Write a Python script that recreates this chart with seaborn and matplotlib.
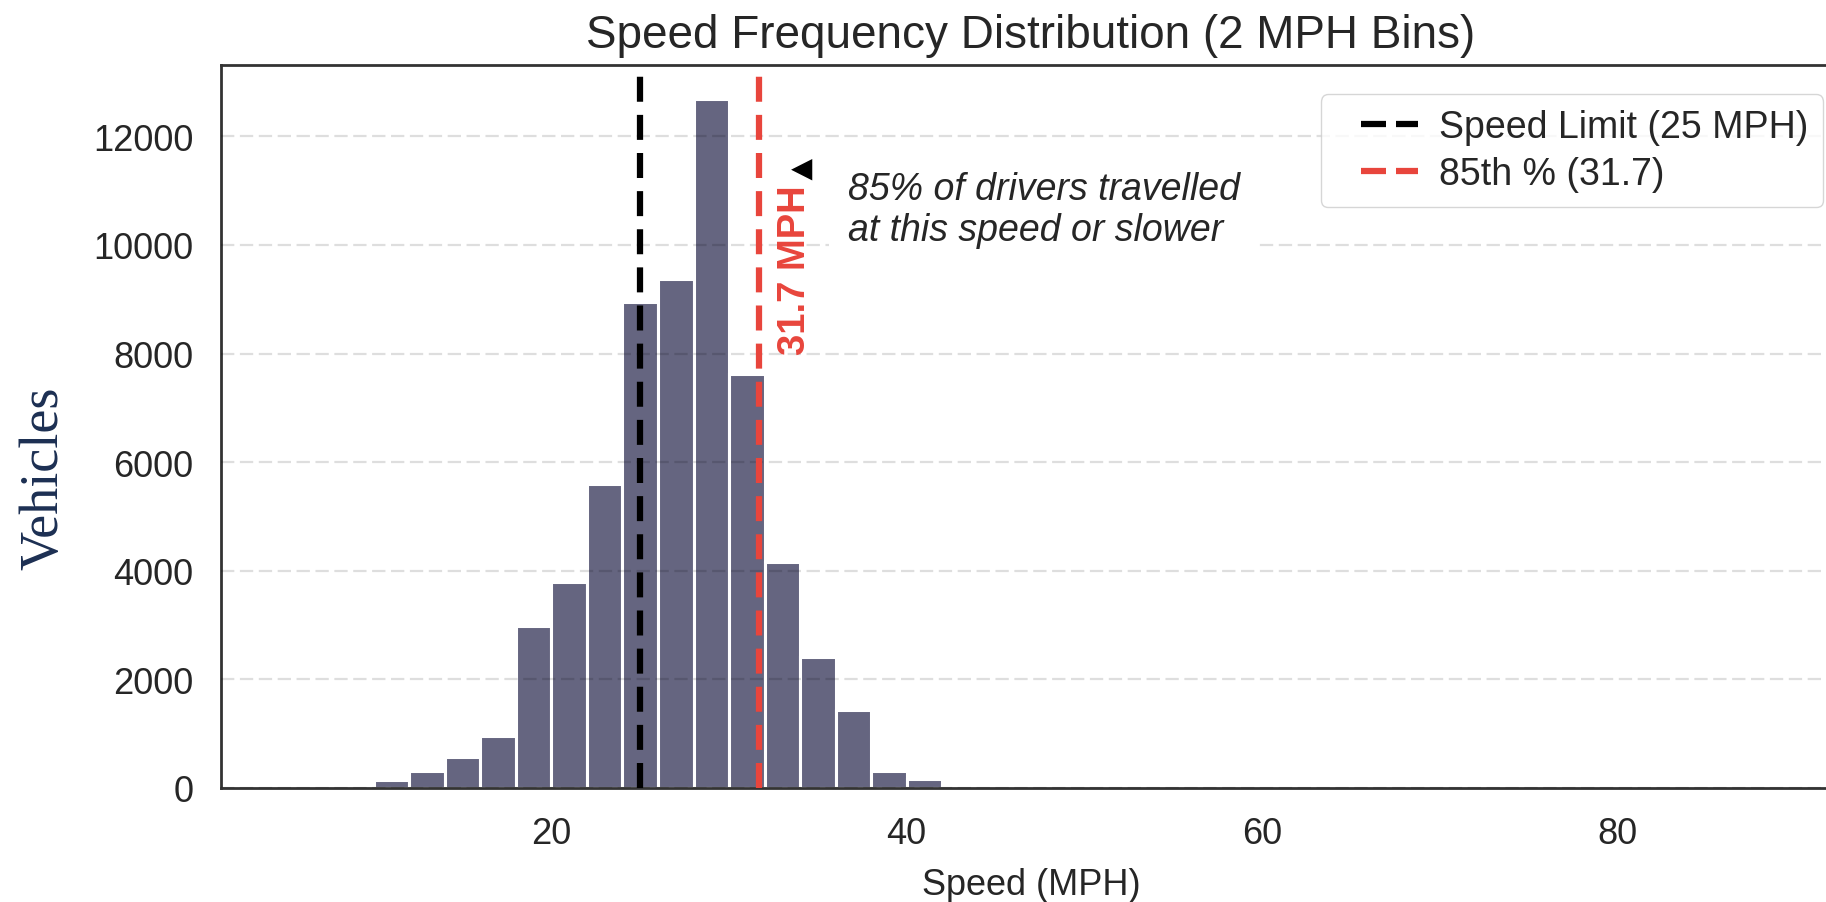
import matplotlib
matplotlib.use("Agg")
import matplotlib.pyplot as plt
import seaborn as sns
import numpy as np
import pandas as pd

# ---- data ----
bin_width = 2
bin_lefts = [6, 8, 10, 12, 14, 16, 18, 20, 22, 24, 26, 28, 30, 32, 34, 36, 38, 40,
             42, 44, 46, 48, 50, 52, 54, 56, 58, 60, 62, 64, 66, 68, 70, 72, 74,
             76, 78, 80, 82, 84, 86]
vehicle_counts = [20, 45, 150, 320, 570, 960, 2980, 3800, 5600, 8950, 9380, 12680,
                  7620, 4170, 2420, 1430, 320, 160,
                  60, 30, 20, 15, 12, 10, 8, 8, 6, 6, 5, 5, 4, 4, 3, 3, 3,
                  2, 2, 2, 2, 2, 2]
speed_limit = 25
pct85 = 31.7
x_ticks = [20, 40, 60, 80]
y_ticks = [0, 2000, 4000, 6000, 8000, 10000, 12000]

title = "Speed Frequency Distribution (2 MPH Bins)"
x_label = "Speed (MPH)"
y_label = "Vehicles"
note = "85% of drivers travelled\nat this speed or slower"

bar_color = "#656580"
red = "#e8453c"

# ---- style ----
sns.set_theme(style="white")
plt.rcParams["font.family"] = ["Liberation Sans", "DejaVu Sans"]
plt.rcParams["text.color"] = "#262626"
plt.rcParams["axes.labelcolor"] = "#262626"
plt.rcParams["xtick.color"] = "#262626"
plt.rcParams["ytick.color"] = "#262626"

W, H = 1826, 903
AX_L, AX_R, AX_T, AX_B = 221, 1841, 66, 789
fig = plt.figure(figsize=(W / 100, H / 100), dpi=100)
ax = fig.add_axes([AX_L / W, 1 - AX_B / H, (AX_R - AX_L) / W, (AX_B - AX_T) / H])

df = pd.DataFrame({
    "speed": [b + bin_width / 2 for b in bin_lefts],
    "count": vehicle_counts,
})
edges = bin_lefts + [bin_lefts[-1] + bin_width]
sns.histplot(data=df, x="speed", weights="count", bins=edges, color=bar_color,
             alpha=1, edgecolor="white", linewidth=2.2, ax=ax)

dash = (0, (4.0, 2.1))
ax.axvline(speed_limit, color="black", lw=4.5, linestyle=dash,
           label=f"Speed Limit ({speed_limit} MPH)", zorder=3)
ax.axvline(pct85, color=red, lw=4.5, linestyle=dash,
           label=f"85th % ({pct85})", zorder=3)

ax.text(pct85 + 1, 8000, f"{pct85} MPH", rotation=90, color=red,
        fontweight="bold", fontsize=27.5, ha="left", va="bottom", zorder=4)
ax.text(pct85 + 2.4, 11420, "\u25C0", fontsize=20, ha="center", va="center",
        color="black", family="DejaVu Sans", zorder=4)
ax.text(pct85 + 5, 10650, note, style="italic", fontsize=27, ha="left",
        va="center", linespacing=1.2, zorder=4,
        bbox=dict(facecolor="white", edgecolor="none", boxstyle="square,pad=0.5"))

ax.set_xlim(1.4, 92.6)
ax.set_xticks(x_ticks)
ax.set_yticks(y_ticks)
ax.tick_params(axis="both", labelsize=26, pad=20, length=0)

ax.set_axisbelow(False)
ax.yaxis.grid(True, color="black", alpha=0.13, linestyle=(0, (6, 2.5)), lw=1.6)
ax.xaxis.grid(False)

for s in ax.spines.values():
    s.set_color("#333333")
    s.set_linewidth(2)

ax.set_title(title, fontsize=33, pad=13, color="#262626")
ax.set_xlabel(x_label, fontsize=26, labelpad=12)
ax.set_ylabel(y_label, family="Liberation Serif", fontsize=39, color="#1c2f52",
              va="center")
ax.yaxis.set_label_coords(-0.109, 0.43)

# legend box upper-right corner at (1823, 95) px
anchor = ((1823 - AX_L) / (AX_R - AX_L), (AX_B - 95) / (AX_B - AX_T))
leg = ax.legend(loc="upper right", bbox_to_anchor=anchor, borderaxespad=0,
                fontsize=27, handlelength=2.2, handletextpad=0.55,
                labelspacing=0.3, borderpad=0.4, frameon=True, fancybox=True,
                framealpha=0.8, edgecolor="#cccccc")
# legend handles: leading blank then two dashes
for ln in leg.get_lines():
    ln.set_linestyle((9.4, (4.0, 1.6, 3.8, 4.0)))

fig.savefig("out.png", dpi=100)
